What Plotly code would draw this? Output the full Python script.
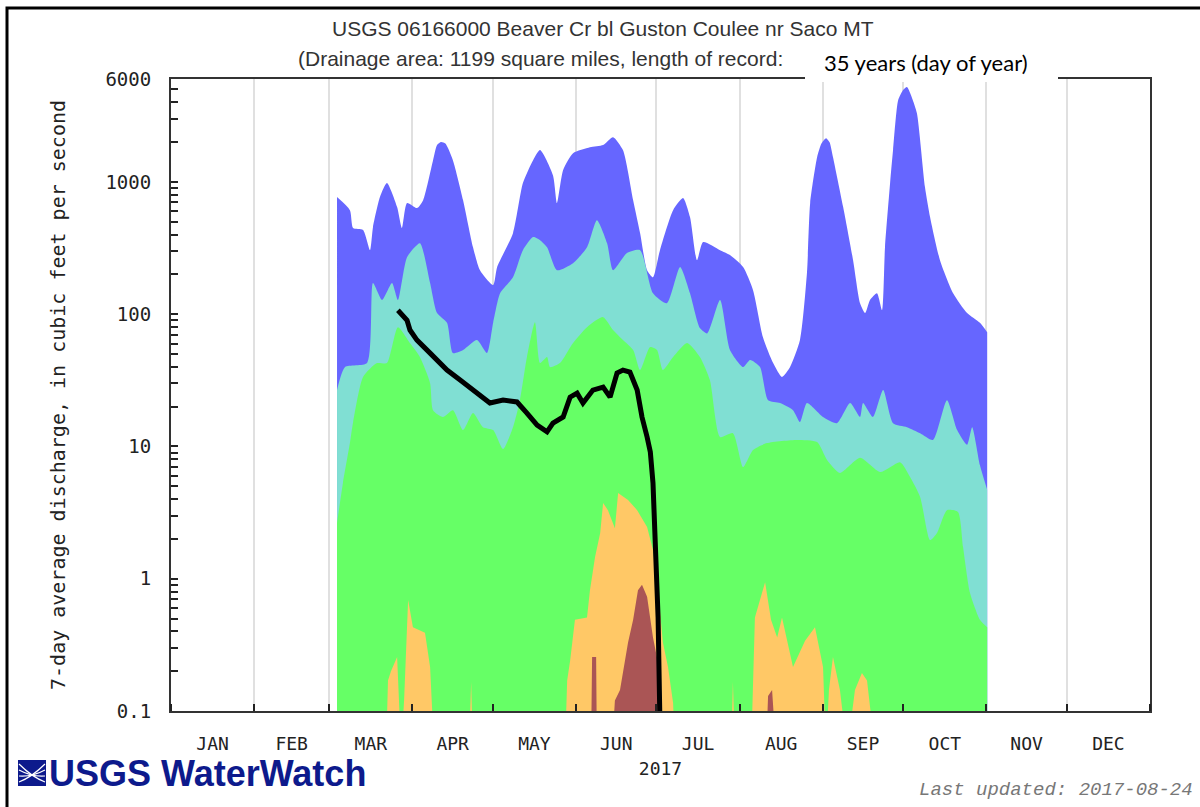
"""USGS WaterWatch style duration-hydrograph, rebuilt with Plotly."""

import math

import numpy as np
import pandas as pd
import plotly.graph_objects as go

BASE_DATE = pd.Timestamp("2017-01-01")
FLOOR = 0.01  # below the axis range, used to close the filled bands

# percentile envelopes, day of year -> 7-day average discharge (cfs)
max_day = [61.9, 66.7, 67.9, 71.6, 74.2, 75.3, 77.9, 80.5, 84.3, 86.1, 88.0, 91.7, 94.0, 97.7,
           99.2, 100.7, 102.3, 105.1, 108.9, 112.6, 115.2, 120.1, 121.6, 127.5, 131.2, 135.0,
           137.6, 142.4, 143.9, 146.2, 149.9, 156.2, 161.1, 164.8, 168.5, 172.3, 174.9, 177.5,
           179.7, 182.3, 187.2, 190.9, 193.5, 196.1, 198.4, 204.7, 208.4, 213.3, 217.0, 220.7,
           224.5, 227.8, 230.8, 234.5, 237.1, 238.3, 240.9, 242.5, 244.2, 245.5, 246.8, 250.6,
           254.3, 256.9, 258.8, 260.6, 263.2, 265.1, 266.2, 268.1, 269.2, 271.1, 272.9, 274.4,
           276.3, 278.1, 281.1, 283.0, 286.7, 291.6, 296.8, 301.6, 304.3]
max_cfs = [768, 612, 448, 433, 305, 455, 768, 980, 645, 448, 692, 634, 728, 1460,
           1900, 2000, 1950, 1460, 728, 321, 215, 166, 227, 410, 980, 1460,
           1740, 1125, 692, 1230, 1650, 1830, 1900, 2180, 1740, 728, 410, 215,
           190, 305, 612, 755, 542, 256, 351, 305, 280, 227, 152, 67,
           42.7, 33.5, 39.8, 63.7, 205, 692, 1540, 1950, 2140, 2000, 1540, 645,
           256, 121, 102, 128, 144, 107, 321, 980, 1740, 4150, 4940, 5210,
           4300, 3310, 914, 542, 256, 144, 102, 86, 73]

p90_day = [61.9, 64.9, 73.1, 75.3, 78.7, 82.4, 84.6, 88.0, 92.8, 96.6, 99.2, 102.9, 105.1,
           108.9, 114.1, 117.8, 120.1, 122.7, 127.5, 131.2, 135.0, 137.6, 140.2, 143.9, 149.9,
           155.1, 158.8, 162.6, 164.8, 170.0, 174.9, 179.7, 184.9, 189.8, 193.5, 197.2, 199.9,
           204.7, 208.4, 213.3, 215.9, 219.6, 222.6, 227.1, 231.9, 234.5, 237.1, 243.1, 248.3,
           253.2, 256.9, 258.0, 261.7, 265.5, 269.2, 274.4, 279.3, 284.1, 289.3, 293.1, 296.8,
           298.7, 301.6, 304.3]
p90_cfs = [26.7, 39.8, 42.7, 172, 128, 172, 128, 270, 344, 172, 102, 86, 50.8,
           53.6, 63.7, 50.8, 86, 144, 190, 305, 383, 363, 321, 215, 243,
           321, 514, 344, 215, 290, 305, 144, 121, 227, 144, 78.5, 71.6,
           128, 53.6, 39.8, 45, 39.8, 22.4, 21.3, 18.8, 15.3, 21.3, 16.7, 15.0,
           21.3, 16.7, 21.3, 16.7, 26.7, 15.0, 14.0, 12.6, 11.2, 22.4, 13.3, 10.3,
           14.0, 7.2, 4.7]

p75_day = [61.9, 64.1, 66.7, 67.9, 71.6, 76.8, 80.5, 84.6, 89.1, 92.8, 96.6, 97.7, 101.4,
           105.1, 108.9, 112.6, 116.3, 120.1, 123.8, 127.5, 130.1, 132.7, 135.7, 137.6, 140.2,
           141.3, 145.0, 149.9, 155.1, 161.1, 164.8, 167.4, 172.3, 174.9, 178.6, 181.2, 183.4,
           187.2, 192.4, 197.2, 200.9, 204.7, 209.5, 213.3, 217.0, 222.2, 233.4, 240.9, 244.6,
           249.4, 256.9, 264.4, 271.8, 275.5, 279.3, 283.0, 285.6, 289.3, 293.4, 295.3, 297.9,
           301.6, 304.3]
p75_cfs = [2.64, 5.3, 10.6, 15.3, 33.5, 42.7, 42.7, 79.8, 60.5, 47.4, 30.1, 18.8, 16.7,
           18.8, 13.3, 17.9, 14.0, 13.3, 9.55, 14.0, 22.4, 47.4, 87, 42.7, 47.4,
           39.8, 42.7, 60.5, 79.8, 95, 75.9, 67, 53.6, 37.8, 56.4, 53.6, 37.8,
           47.4, 60.5, 47.4, 31.8, 11.8, 12.6, 6.98, 9.4, 10.6, 11.2, 10.8, 7.9,
           6.3, 8.2, 6.4, 7.6, 5.9, 4.15, 1.96, 2.22, 3.3, 3.2, 1.74, 0.78,
           0.49, 0.43]

p25_day = [61.9, 80.2, 80.9, 82.0, 84.3, 85.8, 86.9, 88.4, 90.2, 94.7, 96.6, 98.1, 111.1,
           111.9, 112.6, 146.9, 147.7, 148.8, 150.6, 155.1, 156.2, 158.1, 160.0, 161.1, 162.9,
           165.5, 166.7, 170.4, 173.8, 177.5, 179.7, 181.6, 183.4, 185.3, 187.2, 187.9, 208.8,
           209.5, 210.3, 216.3, 217.7, 221.5, 223.7, 226.0, 227.8, 231.9, 236.4, 240.1, 243.1,
           244.2, 245.3, 246.8, 249.4, 252.1, 255.0, 257.6, 259.5, 262.5, 304.3]
p25_cfs = [0.05, 0.05, 0.17, 0.2, 0.256, 0.05, 0.12, 0.69, 0.43, 0.39, 0.215, 0.05, 0.05,
           0.166, 0.05, 0.05, 0.17, 0.24, 0.49, 0.51, 0.82, 1.46, 2.21, 3.73, 3.3,
           2.41, 4.44, 3.94, 3.3, 2.46, 1.65, 0.82, 0.33, 0.215, 0.115, 0.05, 0.05,
           0.166, 0.05, 0.05, 0.51, 0.94, 0.49, 0.36, 0.51, 0.215, 0.34, 0.43, 0.215,
           0.05, 0.144, 0.256, 0.144, 0.05, 0.144, 0.194, 0.17, 0.05, 0.05]

p10_day = [61.9, 156.6, 157.0, 158.5, 158.8, 164.4, 165.5, 167.4, 170.4, 172.3, 174.1,
           175.6, 177.5, 179.7, 181.6, 182.7, 221.9, 222.6, 224.1, 225.6, 304.3]
p10_cfs = [0.05, 0.05, 0.256, 0.256, 0.05, 0.05, 0.12, 0.144, 0.33, 0.49, 0.82,
           0.9, 0.73, 0.36, 0.23, 0.05, 0.05, 0.13, 0.144, 0.05, 0.05]

# 2017 observed 7-day average
flow_day = [84.6, 88.0, 89.1, 91.7, 96.6, 102.9, 107.8, 112.6, 118.9, 123.8, 129.0, 132.7,
            136.5, 140.2, 142.4, 146.2, 148.8, 151.4, 153.6, 157.3, 161.1, 163.7, 166.3,
            168.5, 171.1, 173.8, 175.6, 177.5, 178.7, 179.7, 180.5, 181.6, 182.3]
flow_cfs = [107, 90, 75.9, 63.7, 50.8, 37.8, 31.8, 26.7, 21.3, 22.4, 21.7, 17.9,
            14.5, 12.9, 15.0, 16.7, 23.6, 25.3, 21.3, 26.7, 28.1, 23.6, 35.9,
            37.8, 36.5, 26.7, 16.7, 11.8, 9.1, 5.3, 1.74, 0.51, 0.08]

# (days, values, colour, smooth?)
BANDS = [
    (max_day, max_cfs, "#6666FF", True),
    (p90_day, p90_cfs, "#80DFD3", True),
    (p75_day, p75_cfs, "#66FF66", True),
    (p25_day, p25_cfs, "#FFC866", False),
    (p10_day, p10_cfs, "#AA5555", False),
]

MONTHS = ["Jan", "Feb", "Mar", "Apr", "May", "Jun", "Jul", "Aug", "Sep", "Oct", "Nov", "Dec"]
MONO = "DejaVu Sans Mono"


def to_dates(days):
    return BASE_DATE + pd.to_timedelta(np.asarray(days, dtype=float), unit="D")


def px_x(px):
    # page pixel -> paper fraction (plot area 171..1150 x 79..711)
    return (px - 171) / 979


def px_y(py):
    return (711 - py) / 632


fig = go.Figure()

for days, cfs, color, smooth in BANDS:
    # invisible floor under each band, then the band fills down to it
    fig.add_trace(go.Scatter(x=to_dates([days[0], days[-1]]), y=[FLOOR, FLOOR], mode="lines",
                             line=dict(width=0), hoverinfo="skip"))
    line = dict(width=0, color=color)
    if smooth:
        line.update(shape="spline", smoothing=0.6)
    fig.add_trace(go.Scatter(x=to_dates(days), y=cfs, mode="lines", fill="tonexty",
                             fillcolor=color, line=line, hoverinfo="skip"))

fig.add_trace(go.Scatter(x=to_dates(flow_day), y=flow_cfs, mode="lines",
                         line=dict(color="black", width=5)))

y_ticks, y_text = [], []
for e in range(-1, 4):
    for m in range(1, 10):
        v = m * 10 ** e
        if v > 6000:
            continue
        y_ticks.append(v)
        if m == 1:
            y_text.append("0.1" if e == -1 else str(int(v)))
        elif v == 6000:
            y_text.append("6000")
        else:
            y_text.append("")

fig.update_layout(
    width=1200,
    height=807,
    margin=dict(l=171, r=50, t=79, b=96),
    paper_bgcolor="white",
    plot_bgcolor="white",
    showlegend=False,
    xaxis=dict(
        type="date",
        range=["2017-01-01", "2018-01-01"],
        tick0="2017-01-01",
        dtick="M1",
        tickformat="%b",
        ticklabelmode="period",
        labelalias={m: m.upper() for m in MONTHS},
        ticks="inside",
        ticklen=7,
        tickwidth=2,
        tickcolor="#222",
        showgrid=True,
        gridcolor="#e0e0e0",
        gridwidth=2,
        showline=True,
        linecolor="#333",
        linewidth=2,
        mirror=True,
        ticklabelstandoff=15,
        tickfont=dict(family=MONO, size=18, color="#222"),
        title=dict(text="2017", standoff=10, font=dict(family=MONO, size=18, color="#222")),
    ),
    yaxis=dict(
        type="log",
        range=[-1, math.log10(6000)],
        tickvals=y_ticks,
        ticktext=y_text,
        ticks="inside",
        ticklen=7,
        tickwidth=2,
        tickcolor="#222",
        showgrid=False,
        zeroline=False,
        showline=True,
        linecolor="#333",
        linewidth=2,
        mirror=True,
        ticklabelstandoff=14,
        tickfont=dict(family=MONO, size=19, color="#222"),
        title=dict(text="7-day average discharge, in cubic feet per second", standoff=34,
                   font=dict(family=MONO, size=20, color="#222")),
    ),
)

# outer frame
fig.add_shape(type="rect", xref="paper", yref="paper",
              x0=px_x(7), x1=px_x(1215), y0=px_y(830), y1=px_y(8),
              line=dict(color="black", width=3), layer="above")

# title lines
fig.add_annotation(text="USGS 06166000 Beaver Cr bl Guston Coulee nr Saco MT",
                   xref="paper", yref="paper", x=px_x(603), y=px_y(28),
                   xanchor="center", yanchor="middle", showarrow=False,
                   font=dict(family="Liberation Sans, Arial", size=21, color="#333"))
fig.add_annotation(text="(Drainage area: 1199 square miles, length of record:",
                   xref="paper", yref="paper", x=px_x(296), y=px_y(58),
                   xanchor="left", yanchor="middle", showarrow=False,
                   font=dict(family="Liberation Sans, Arial", size=21, color="#333"))

# pasted-over label box
fig.add_shape(type="rect", xref="paper", yref="paper",
              x0=px_x(805), x1=px_x(1058), y0=px_y(82), y1=px_y(40),
              fillcolor="white", line=dict(width=0), layer="above")
fig.add_annotation(text="35 years (day of year)",
                   xref="paper", yref="paper", x=px_x(926), y=px_y(62),
                   xanchor="center", yanchor="middle", showarrow=False,
                   font=dict(family="Lato, Open Sans", size=22, color="black"))

# USGS WaterWatch logo
navy = "#0d1a8c"
fig.add_shape(type="rect", xref="paper", yref="paper",
              x0=px_x(18), x1=px_x(46), y0=px_y(786), y1=px_y(760),
              fillcolor=navy, line=dict(width=0))
for a, b in [(764, 782), (770, 776), (776, 770), (782, 764)]:
    fig.add_shape(type="path", xref="paper", yref="paper",
                  path=f"M {px_x(19)},{px_y(a)} Q {px_x(32)},{px_y((a + b) / 2 + 4)} {px_x(45)},{px_y(b)}",
                  line=dict(color="white", width=1.2))
fig.add_annotation(text="<b>USGS WaterWatch</b>",
                   xref="paper", yref="paper", x=px_x(47), y=px_y(773),
                   xanchor="left", yanchor="middle", showarrow=False,
                   font=dict(family="Liberation Sans Narrow, Liberation Sans, Arial", size=36, color=navy))

fig.add_annotation(text="Last updated: 2017-08-24",
                   xref="paper", yref="paper", x=px_x(917), y=px_y(790),
                   xanchor="left", yanchor="middle", showarrow=False,
                   font=dict(family="Liberation Mono", size=19, color="#777", style="italic"))

# page has a default body margin; drop it so the figure sits at the window origin
fig.write_html("out.html", config={"displayModeBar": False},
               post_script="document.body.style.margin = '0';")
